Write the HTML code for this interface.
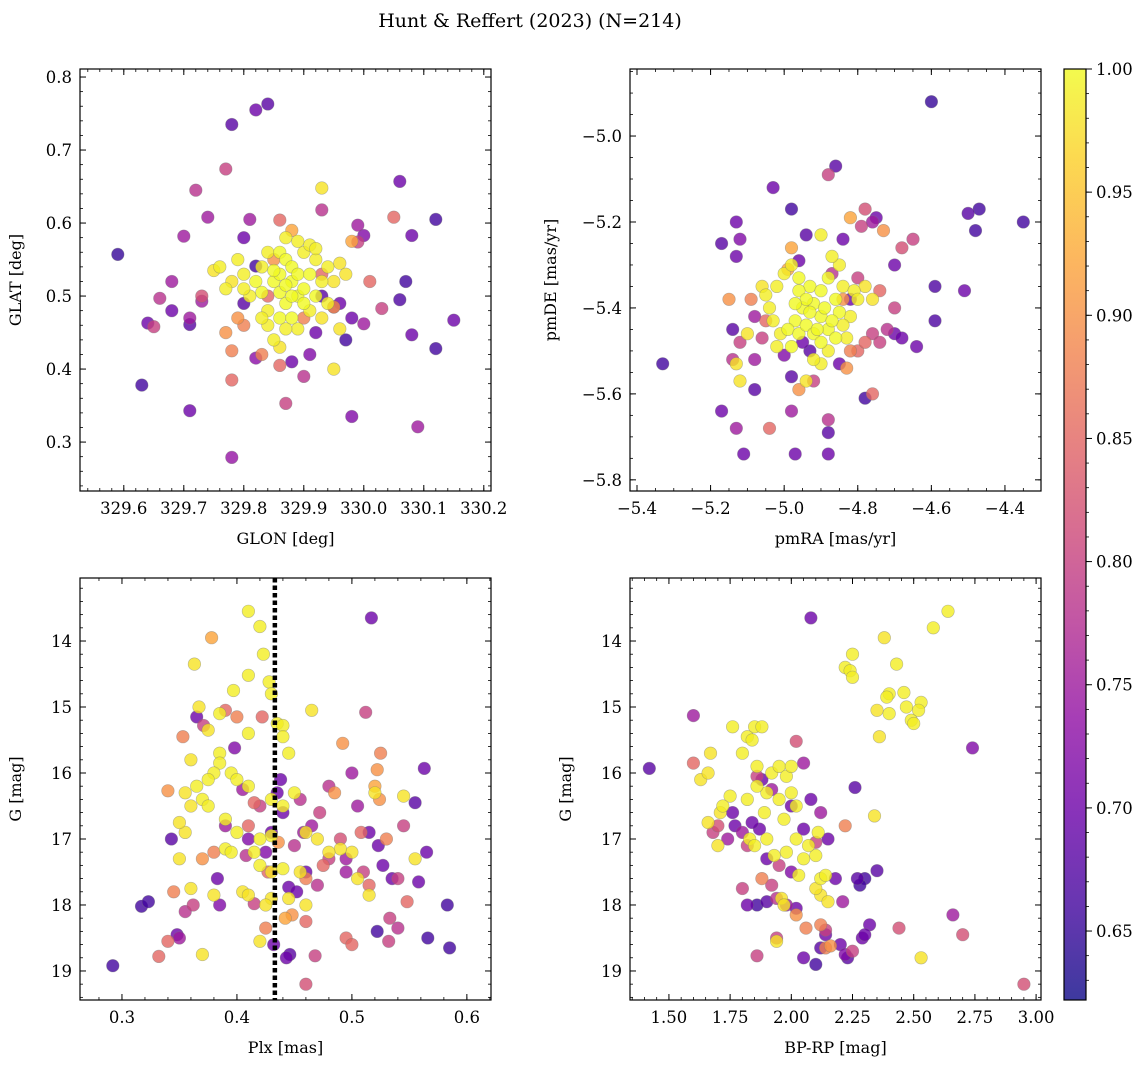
<!DOCTYPE html>
<html><head><meta charset="utf-8">
<style>
html,body{margin:0;padding:0;background:#fff;}
svg{display:block;font-family:"DejaVu Serif","Liberation Serif",serif;}
</style></head>
<body>
<svg id="chart" width="1148" height="1068" xmlns="http://www.w3.org/2000/svg">
<text x="530" y="27" font-size="19" text-anchor="middle">Hunt &amp; Reffert (2023) (N=214)</text>
<defs>
<linearGradient id="cbgrad" x1="0" y1="1" x2="0" y2="0">
<stop offset="0" stop-color="#0d0887"/><stop offset="0.1" stop-color="#41049d"/><stop offset="0.2" stop-color="#6a00a8"/><stop offset="0.3" stop-color="#8f0da4"/><stop offset="0.4" stop-color="#b12a90"/><stop offset="0.5" stop-color="#cc4778"/><stop offset="0.6" stop-color="#e16462"/><stop offset="0.7" stop-color="#f2844b"/><stop offset="0.8" stop-color="#fca636"/><stop offset="0.9" stop-color="#fcce25"/><stop offset="1" stop-color="#f0f921"/>
</linearGradient>
</defs>
</svg>
<script>
// ---- data: [x, y, probability] ----
const skyStars = [
[329.59,0.557,0.65],[329.63,0.378,0.66],[329.64,0.463,0.7],[329.65,0.458,0.8],[329.66,0.497,0.78],[329.68,0.52,0.75],[329.68,0.48,0.7],[329.70,0.582,0.75],[329.71,0.47,0.75],[329.71,0.343,0.7],[329.71,0.461,0.68],[329.72,0.645,0.78],[329.73,0.50,0.82],[329.73,0.493,0.75],[329.74,0.608,0.75],[329.78,0.735,0.68],[329.77,0.674,0.8],[329.78,0.385,0.85],[329.78,0.279,0.74],[329.82,0.755,0.7],[329.84,0.763,0.68],[329.80,0.58,0.7],[329.81,0.605,0.75],[329.82,0.541,0.66],[329.80,0.49,0.68],[329.82,0.415,0.73],[329.86,0.604,0.85],[329.87,0.353,0.8],[329.88,0.41,0.7],[329.90,0.39,0.78],[329.91,0.42,0.72],[329.92,0.45,0.7],[329.93,0.618,0.78],[329.93,0.50,0.68],[329.95,0.485,0.7],[329.96,0.49,0.7],[329.97,0.44,0.66],[329.98,0.335,0.72],[329.99,0.574,0.8],[329.99,0.597,0.75],[330.00,0.583,0.72],[329.98,0.47,0.7],[330.00,0.462,0.75],[330.01,0.52,0.85],[330.03,0.483,0.8],[330.05,0.608,0.85],[330.06,0.657,0.7],[330.06,0.495,0.67],[330.07,0.52,0.66],[330.08,0.447,0.7],[330.08,0.583,0.7],[330.09,0.321,0.75],[330.12,0.605,0.66],[330.12,0.428,0.66],[330.15,0.467,0.7],
[329.77,0.45,0.9],[329.78,0.425,0.88],[329.79,0.47,0.9],[329.80,0.46,0.88],[329.83,0.42,0.88],[329.84,0.50,0.85],[329.85,0.55,0.9],[329.88,0.59,0.92],[329.90,0.47,0.88],[329.98,0.575,0.92],[329.95,0.485,0.9],[329.93,0.53,0.85],[329.86,0.405,0.85],
[329.93,0.648,0.98],[329.95,0.40,0.98],[329.77,0.51,0.99],[329.75,0.535,0.98],[329.76,0.54,0.99],[329.79,0.55,0.99],[329.80,0.53,0.99],[329.82,0.52,1],[329.83,0.505,1],[329.84,0.48,0.99],[329.85,0.52,1],[329.86,0.56,1],[329.86,0.53,1],[329.87,0.58,0.99],[329.87,0.55,1],[329.88,0.54,1],[329.88,0.52,1],[329.89,0.50,1],[329.89,0.53,1],[329.90,0.56,0.99],[329.90,0.51,1],[329.91,0.57,0.99],[329.91,0.53,1],[329.92,0.55,0.99],[329.92,0.50,1],[329.93,0.52,0.99],[329.94,0.54,0.99],[329.94,0.49,0.99],[329.95,0.52,0.98],[329.96,0.545,0.98],[329.97,0.53,0.98],[329.96,0.455,0.98],[329.85,0.44,0.99],[329.84,0.46,0.99],[329.86,0.47,1],[329.87,0.49,1],[329.88,0.47,1],[329.89,0.455,0.99],[329.90,0.49,1],[329.91,0.48,0.99],[329.86,0.505,1],[329.87,0.515,1],[329.88,0.50,1],[329.85,0.535,1],[329.83,0.54,0.99],[329.81,0.50,0.99],[329.80,0.51,0.99],[329.89,0.575,0.99],[329.92,0.565,0.99],[329.86,0.43,0.98],[329.83,0.47,0.99],[329.78,0.52,0.98],[329.84,0.56,0.99],[329.93,0.47,0.98],[329.87,0.455,0.99]
];
const pmStars = [
[-4.60,-4.92,0.65],[-4.86,-5.07,0.68],[-4.88,-5.09,0.8],[-5.03,-5.12,0.7],[-4.98,-5.17,0.66],[-5.13,-5.20,0.7],[-5.12,-5.24,0.72],[-4.94,-5.23,0.68],[-4.84,-5.24,0.7],[-4.79,-5.21,0.8],[-4.76,-5.20,0.75],[-4.75,-5.19,0.7],[-4.73,-5.22,0.9],[-4.78,-5.17,0.82],[-5.17,-5.25,0.68],[-5.13,-5.28,0.7],[-4.68,-5.26,0.82],[-4.65,-5.24,0.8],[-4.70,-5.30,0.7],[-4.50,-5.18,0.68],[-4.47,-5.17,0.66],[-4.48,-5.22,0.66],[-4.35,-5.20,0.66],[-4.59,-5.35,0.67],[-4.51,-5.36,0.7],[-4.64,-5.49,0.7],[-4.59,-5.43,0.67],[-5.33,-5.53,0.66],[-5.17,-5.64,0.7],[-5.13,-5.68,0.75],[-5.11,-5.74,0.7],[-4.97,-5.74,0.7],[-4.88,-5.74,0.7],[-4.88,-5.69,0.68],[-4.88,-5.66,0.78],[-5.04,-5.68,0.85],[-5.08,-5.59,0.68],[-4.98,-5.64,0.75],[-4.78,-5.61,0.66],[-4.76,-5.60,0.85],[-5.14,-5.45,0.68],[-5.14,-5.52,0.78],[-5.12,-5.48,0.8],[-5.08,-5.52,0.75],[-5.15,-5.38,0.9],[-5.09,-5.38,0.88],[-5.08,-5.42,0.75],[-5.06,-5.47,0.8],[-5.05,-5.43,0.85],[-4.80,-5.50,0.85],[-4.78,-5.48,0.85],[-4.76,-5.46,0.8],[-4.74,-5.48,0.8],[-4.72,-5.45,0.78],[-4.70,-5.46,0.7],[-4.68,-5.47,0.7],[-4.70,-5.40,0.8],[-4.74,-5.36,0.85],[-4.82,-5.50,0.88],[-4.85,-5.53,0.7],[-4.83,-5.54,0.9],[-4.95,-5.48,0.7],[-4.93,-5.50,0.68],[-4.98,-5.56,0.68],[-4.92,-5.57,0.8],[-4.96,-5.59,0.9],[-5.00,-5.51,0.72],[-4.82,-5.38,0.7],[-4.80,-5.33,0.8],[-4.87,-5.32,0.78],[-4.96,-5.29,0.7],[-4.84,-5.38,0.9],[-4.82,-5.19,0.92],[-4.98,-5.26,0.92],[-4.99,-5.31,0.92],
[-4.90,-5.23,0.99],[-5.13,-5.53,0.98],[-5.12,-5.57,0.98],[-5.10,-5.46,0.98],[-5.04,-5.40,0.99],[-5.02,-5.35,0.99],[-5.00,-5.32,0.99],[-4.98,-5.30,0.99],[-4.96,-5.33,1],[-4.93,-5.35,1],[-4.92,-5.39,1],[-4.90,-5.42,1],[-4.90,-5.36,1],[-4.88,-5.33,1],[-4.86,-5.38,1],[-4.85,-5.41,1],[-4.84,-5.35,0.99],[-4.82,-5.42,0.99],[-4.81,-5.36,0.99],[-4.80,-5.38,0.99],[-4.78,-5.35,0.98],[-4.76,-5.38,0.98],[-4.95,-5.40,1],[-4.97,-5.43,1],[-4.99,-5.45,1],[-5.01,-5.46,0.99],[-5.02,-5.49,0.99],[-4.98,-5.49,1],[-4.96,-5.46,1],[-4.94,-5.44,1],[-4.92,-5.46,1],[-4.90,-5.48,1],[-4.88,-5.45,1],[-4.86,-5.47,1],[-4.84,-5.44,0.99],[-4.83,-5.47,0.99],[-4.88,-5.50,0.99],[-4.90,-5.53,0.99],[-4.92,-5.52,0.99],[-4.94,-5.57,0.98],[-4.93,-5.41,1],[-4.91,-5.45,1],[-4.89,-5.40,1],[-4.87,-5.43,1],[-5.05,-5.37,0.99],[-4.96,-5.36,1],[-4.94,-5.38,1],[-4.97,-5.39,1],[-4.85,-5.30,0.99],[-4.87,-5.28,0.99],[-5.03,-5.43,0.99],[-5.06,-5.35,0.98]
];
const plxStars = [
[0.292,18.92,0.66],[0.317,18.02,0.66],[0.323,17.95,0.66],[0.343,17.0,0.68],[0.348,18.45,0.7],[0.350,18.5,0.75],[0.355,18.1,0.78],[0.362,18.0,0.8],[0.365,15.15,0.7],[0.371,15.28,0.8],[0.383,17.6,0.7],[0.385,18.0,0.72],[0.398,15.62,0.72],[0.405,16.25,0.75],[0.410,17.0,0.72],[0.408,17.25,0.78],[0.415,17.98,0.8],[0.420,16.5,0.8],[0.425,17.2,0.72],[0.430,16.9,0.7],[0.432,18.6,0.7],[0.435,16.3,0.7],[0.438,16.1,0.7],[0.440,16.6,0.7],[0.443,18.8,0.7],[0.446,18.75,0.68],[0.445,17.73,0.7],[0.452,17.8,0.7],[0.450,17.1,0.78],[0.455,16.4,0.78],[0.458,16.9,0.75],[0.460,17.5,0.7],[0.465,16.8,0.75],[0.470,17.7,0.78],[0.472,16.6,0.8],[0.480,17.3,0.8],[0.490,17.0,0.82],[0.495,17.3,0.75],[0.505,16.5,0.75],[0.510,17.5,0.8],[0.512,15.08,0.8],[0.515,16.9,0.7],[0.517,13.65,0.7],[0.522,18.4,0.66],[0.523,17.1,0.7],[0.527,17.4,0.7],[0.532,18.55,0.8],[0.535,17.6,0.7],[0.540,17.6,0.8],[0.545,16.8,0.8],[0.555,16.45,0.68],[0.558,17.65,0.7],[0.563,15.93,0.7],[0.565,17.2,0.7],[0.566,18.5,0.66],[0.583,18.0,0.66],[0.585,18.65,0.66],[0.533,18.2,0.8],[0.540,18.35,0.78],[0.46,19.2,0.82],[0.468,18.77,0.8],[0.46,18.25,0.85],[0.480,16.2,0.78],[0.39,16.8,0.75],[0.50,16.0,0.75],[0.495,17.5,0.75],
[0.340,16.27,0.9],[0.345,17.8,0.88],[0.340,18.55,0.85],[0.332,18.78,0.85],[0.353,15.45,0.88],[0.378,13.95,0.92],[0.370,17.3,0.9],[0.380,17.2,0.88],[0.390,15.05,0.85],[0.400,15.15,0.88],[0.415,16.45,0.85],[0.422,15.15,0.85],[0.425,18.35,0.88],[0.427,17.5,0.85],[0.436,17.05,0.9],[0.442,18.2,0.92],[0.448,18.15,0.9],[0.46,17.6,0.88],[0.475,17.4,0.85],[0.485,16.3,0.9],[0.492,15.55,0.9],[0.495,18.5,0.85],[0.500,18.6,0.85],[0.508,16.9,0.85],[0.515,17.7,0.85],[0.52,16.2,0.92],[0.522,15.95,0.9],[0.524,16.4,0.9],[0.525,15.7,0.88],[0.548,17.95,0.85],[0.53,17.0,0.88],[0.41,16.8,0.85],
[0.410,13.55,0.99],[0.420,13.78,0.99],[0.423,14.2,0.99],[0.363,14.35,0.98],[0.410,14.52,0.99],[0.428,14.62,0.99],[0.397,14.75,0.99],[0.430,14.8,0.99],[0.367,15.0,0.98],[0.385,15.1,0.99],[0.435,15.25,0.99],[0.440,15.28,0.99],[0.440,15.45,0.99],[0.375,15.35,0.98],[0.410,15.4,0.99],[0.445,15.7,0.99],[0.385,15.7,0.99],[0.385,15.85,0.99],[0.36,15.8,0.98],[0.38,16.0,0.99],[0.375,16.1,0.99],[0.365,16.2,0.99],[0.355,16.3,0.98],[0.395,16.0,0.99],[0.40,16.1,0.99],[0.41,16.2,0.99],[0.37,16.4,0.99],[0.36,16.5,0.98],[0.375,16.5,0.99],[0.39,16.7,0.99],[0.355,16.9,0.98],[0.40,16.9,0.99],[0.43,16.95,0.99],[0.43,17.5,0.98],[0.465,15.05,0.98],[0.42,17.0,0.99],[0.415,17.2,0.99],[0.35,17.3,0.98],[0.39,17.15,0.99],[0.395,17.2,0.99],[0.44,17.45,0.99],[0.445,17.9,0.98],[0.43,17.9,0.98],[0.405,17.8,0.98],[0.38,17.85,0.98],[0.36,17.75,0.98],[0.35,16.75,0.98],[0.42,17.4,0.99],[0.425,18.0,0.98],[0.37,18.75,0.98],[0.41,17.85,0.98],[0.42,18.55,0.98],[0.455,17.5,0.98],[0.46,18.0,0.98],[0.50,17.2,0.98],[0.505,17.6,0.98],[0.515,17.85,0.98],[0.52,16.3,0.98],[0.545,16.35,0.98],[0.555,17.3,0.98],[0.49,17.15,0.98],[0.45,16.3,0.99],[0.43,16.4,0.99],[0.44,16.5,0.99],[0.46,16.9,0.98],[0.48,17.2,0.98],[0.47,17.0,0.98]
];
const cmdStars = [
[1.42,15.93,0.68],[1.60,15.13,0.75],[2.08,13.65,0.7],[2.74,15.62,0.72],[2.95,19.2,0.82],[2.70,18.45,0.82],[2.66,18.15,0.75],[2.44,18.35,0.82],[2.35,17.48,0.68],[2.26,16.22,0.68],[2.27,17.6,0.68],[2.30,17.6,0.66],[2.28,17.7,0.66],[2.32,18.3,0.7],[2.20,18.6,0.7],[2.22,18.75,0.72],[2.23,18.8,0.68],[2.25,18.7,0.8],[2.29,18.5,0.7],[2.30,18.45,0.7],[2.14,18.45,0.7],[2.12,18.65,0.68],[2.10,18.9,0.66],[2.05,18.8,0.7],[2.16,18.62,0.9],[1.94,18.5,0.8],[1.86,18.77,0.8],[1.82,18.0,0.7],[1.86,18.0,0.66],[1.90,17.95,0.68],[1.94,17.9,0.78],[1.98,18.0,0.75],[2.02,18.05,0.7],[1.80,17.75,0.8],[1.82,17.1,0.8],[1.80,16.9,0.75],[1.77,16.8,0.7],[1.74,17.0,0.75],[1.68,16.9,0.8],[1.70,16.8,0.82],[1.60,15.85,0.85],[1.76,16.6,0.7],[1.86,16.05,0.8],[1.88,16.1,0.7],[1.92,16.25,0.75],[2.00,16.5,0.7],[2.02,15.52,0.82],[2.05,15.85,0.75],[2.08,16.4,0.7],[2.05,16.85,0.7],[2.12,16.6,0.75],[2.10,17.05,0.8],[2.15,17.0,0.7],[2.00,17.5,0.72],[1.95,17.4,0.8],[2.18,17.6,0.7],[2.21,17.95,0.75],[2.22,16.8,0.88],[2.02,18.15,0.9],[1.88,17.6,0.88],[1.92,17.7,0.8],[2.12,18.3,0.88],[2.14,18.38,0.8],[2.06,18.35,0.88],[2.14,18.65,0.88],[1.87,16.85,0.7],[1.84,16.75,0.7],[1.90,17.3,0.7],
[2.64,13.55,0.99],[2.58,13.8,0.99],[2.38,13.95,0.98],[2.22,14.4,0.99],[2.24,14.45,0.99],[2.25,14.55,0.99],[2.25,14.2,0.99],[2.43,14.35,0.99],[2.40,14.8,0.99],[2.39,14.85,0.99],[2.46,14.78,0.99],[2.35,15.05,0.98],[2.40,15.1,0.99],[2.47,15.0,0.99],[2.49,15.2,0.99],[2.50,15.25,0.99],[2.53,14.93,0.99],[2.52,15.05,0.99],[2.36,15.45,0.98],[2.53,18.8,0.98],[1.85,15.3,0.99],[1.88,15.3,0.99],[1.76,15.3,0.99],[1.82,15.45,0.99],[1.84,15.5,0.99],[1.80,15.7,0.99],[1.67,15.7,0.98],[1.63,16.1,0.98],[1.66,16.0,0.98],[1.86,15.9,0.99],[1.92,16.0,0.99],[1.95,15.9,0.99],[1.98,16.05,0.99],[1.90,16.3,0.99],[1.95,16.4,0.99],[2.00,16.3,0.99],[2.02,16.5,0.99],[1.82,16.4,0.99],[1.75,16.35,0.99],[1.72,16.5,0.99],[1.71,16.6,0.98],[1.66,16.75,0.98],[1.70,17.1,0.98],[1.83,17.0,0.99],[1.85,17.1,0.99],[1.90,17.0,0.99],[1.93,17.25,0.99],[1.98,17.2,0.99],[2.02,17.0,0.99],[2.05,17.3,0.99],[2.10,17.25,0.99],[2.12,17.6,0.99],[2.14,17.55,0.99],[2.12,17.85,0.98],[2.10,17.75,0.98],[2.15,17.95,0.98],[1.96,17.9,0.98],[1.97,18.0,0.98],[1.94,18.55,0.98],[2.03,17.55,0.99],[2.07,17.1,0.99],[2.11,16.9,0.99],[1.89,16.6,0.99],[1.97,16.7,0.99],[2.34,16.65,0.98],[2.0,15.9,0.99],[1.86,16.2,0.99]
];
const plxCut = [0.433];
const cbTicks = [0.65,0.70,0.75,0.80,0.85,0.90,0.95,1.00];
const pMin = 0.622, pMax = 1.0;

const NS = 'http://www.w3.org/2000/svg';
const svg = document.getElementById('chart');
function mk(tag, attrs, parent){
  const e = document.createElementNS(NS, tag);
  for (const k in attrs) e.setAttribute(k, attrs[k]);
  (parent||svg).appendChild(e); return e;
}
const stops=[[0,[13,8,135]],[0.1,[65,4,157]],[0.2,[106,0,168]],[0.3,[143,13,164]],[0.4,[177,42,144]],[0.5,[204,71,120]],[0.6,[225,100,98]],[0.7,[242,132,75]],[0.8,[252,166,54]],[0.9,[252,206,37]],[1,[240,249,33]]];
function plasma(t){
  t=Math.max(0,Math.min(1,t));
  for(let i=0;i<stops.length-1;i++){
    const a=stops[i],b=stops[i+1];
    if(t<=b[0]){const f=(t-a[0])/(b[0]-a[0]);
      const c=a[1].map((v,j)=>Math.round(v+(b[1][j]-v)*f));
      return `rgb(${c[0]},${c[1]},${c[2]})`;}
  }
  return 'rgb(240,249,33)';
}
function fmt(v,d){return v.toFixed(d).replace('-','\u2212');}

function panel(cfg){
  const {x0,y0,w,h,xd,yd,yInv,xt,xm,yt,ym,xdec,ydec,xlabel,ylabel,data,name} = cfg;
  const g = mk('g',{});
  
  
  const sx = v => x0 + (v-xd[0])/(xd[1]-xd[0])*w;
  const sy = v => yInv ? y0 + (v-yd[0])/(yd[1]-yd[0])*h : y0 + h - (v-yd[0])/(yd[1]-yd[0])*h;
  const clip = 'clip-'+name;
  const cp = mk('clipPath',{id:clip},g); mk('rect',{x:x0,y:y0,width:w,height:h},cp);
  const pts = mk('g',{'clip-path':`url(#${clip})`},g);
  const sorted = data.slice().sort((a,b)=>a[2]-b[2]);
  sorted.forEach(d=>{
    const c = mk('circle',{cx:sx(d[0]).toFixed(1),cy:sy(d[1]).toFixed(1),r:6.3,fill:plasma((d[2]-pMin)/(pMax-pMin)),'fill-opacity':0.8,stroke:'#777','stroke-opacity':0.5,'stroke-width':0.6},pts);
    
    
  });
  if (cfg.vline){
    const l = mk('line',{x1:sx(cfg.vline[0]),x2:sx(cfg.vline[0]),y1:y0,y2:y0+h,stroke:'#000','stroke-width':4.5,'stroke-dasharray':'4.5 3'},g);
    
    
  }
  const eps=1e-9;
  for(let v=Math.ceil((xd[0])/xm-eps)*xm; v<=xd[1]+eps; v+=xm){
    const X=sx(v); mk('line',{x1:X,x2:X,y1:y0+h,y2:y0+h-3,stroke:'#000','stroke-width':0.8},g); mk('line',{x1:X,x2:X,y1:y0,y2:y0+3,stroke:'#000','stroke-width':0.8},g);
  }
  for(let v=Math.ceil((yd[0])/ym-eps)*ym; v<=yd[1]+eps; v+=ym){
    const Y=sy(v); mk('line',{x1:x0,x2:x0+3,y1:Y,y2:Y,stroke:'#000','stroke-width':0.8},g); mk('line',{x1:x0+w,x2:x0+w-3,y1:Y,y2:Y,stroke:'#000','stroke-width':0.8},g);
  }
  xt.forEach(v=>{const X=sx(v);
    mk('line',{x1:X,x2:X,y1:y0+h,y2:y0+h-6,stroke:'#000','stroke-width':1},g); mk('line',{x1:X,x2:X,y1:y0,y2:y0+6,stroke:'#000','stroke-width':1},g);
    const t=mk('text',{x:X,y:y0+h+23,'font-size':16.5,'text-anchor':'middle'},g); t.textContent=fmt(v,xdec);
    
    
  });
  yt.forEach(v=>{const Y=sy(v);
    mk('line',{x1:x0,x2:x0+6,y1:Y,y2:Y,stroke:'#000','stroke-width':1},g); mk('line',{x1:x0+w,x2:x0+w-6,y1:Y,y2:Y,stroke:'#000','stroke-width':1},g);
    const t=mk('text',{x:x0-8,y:Y+6,'font-size':16.5,'text-anchor':'end'},g); t.textContent=fmt(v,ydec);
    
    
  });
  mk('rect',{x:x0,y:y0,width:w,height:h,fill:'none',stroke:'#000','stroke-width':1.2},g);
  const xl=mk('text',{x:x0+w/2,y:y0+h+53,'font-size':16,'text-anchor':'middle'},g); xl.textContent=xlabel;
  
  
  const lx = cfg.ylx;
  const yl=mk('text',{x:lx,y:y0+h/2,'font-size':16,'text-anchor':'middle',transform:`rotate(-90 ${lx} ${y0+h/2})`},g); yl.textContent=ylabel;
  
  
}
function rng(a,b,s){const r=[];for(let v=a;v<=b+s/1000;v+=s)r.push(Math.round(v*1000)/1000);return r;}

panel({name:'panel-sky-position',x0:80,y0:69,w:411,h:422,xd:[329.527,330.212],yd:[0.233,0.811],xt:rng(329.6,330.2,0.1),xm:0.02,yt:rng(0.3,0.8,0.1),ym:0.02,xdec:1,ydec:1,xlabel:'GLON [deg]',ylabel:'GLAT [deg]',ylx:21,data:skyStars});
panel({name:'panel-proper-motion',x0:630,y0:69,w:411,h:422,xd:[-5.419,-4.302],yd:[-5.826,-4.844],xt:rng(-5.4,-4.4,0.2),xm:0.05,yt:rng(-5.8,-5.0,0.2),ym:0.05,xdec:1,ydec:1,xlabel:'pmRA [mas/yr]',ylabel:'pmDE [mas/yr]',ylx:556,data:pmStars});
panel({name:'panel-parallax-mag',x0:80,y0:578,w:411,h:422,xd:[0.2635,0.621],yd:[13.045,19.44],yInv:true,xt:rng(0.3,0.6,0.1),xm:0.02,yt:rng(14,19,1),ym:0.2,xdec:1,ydec:0,xlabel:'Plx [mas]',ylabel:'G [mag]',ylx:21,data:plxStars,vline:plxCut});
panel({name:'panel-cmd',x0:630,y0:578,w:411,h:422,xd:[1.341,3.02],yd:[13.045,19.44],yInv:true,xt:rng(1.5,3.0,0.25),xm:0.05,yt:rng(14,19,1),ym:0.2,xdec:2,ydec:0,xlabel:'BP-RP [mag]',ylabel:'G [mag]',ylx:571,data:cmdStars});

const cb = mk('g',{});


const cbx=1064, cbw=22, cby0=69, cby1=1000;
mk('rect',{x:cbx,y:cby0,width:cbw,height:cby1-cby0,fill:'url(#cbgrad)','fill-opacity':0.8},cb);
const cy = v => cby1 - (v-pMin)/(pMax-pMin)*(cby1-cby0);
for(let v=0.63; v<=1.0001; v+=0.01){const Y=cy(v); mk('line',{x1:cbx+cbw,x2:cbx+cbw+3,y1:Y,y2:Y,stroke:'#000','stroke-width':0.8},cb);}
cbTicks.forEach(v=>{const Y=cy(v);
  mk('line',{x1:cbx+cbw,x2:cbx+cbw+6,y1:Y,y2:Y,stroke:'#000','stroke-width':1},cb);
  const t=mk('text',{x:cbx+cbw+10,y:Y+6,'font-size':16.5},cb); t.textContent=v.toFixed(2);
  
  
});
mk('rect',{x:cbx,y:cby0,width:cbw,height:cby1-cby0,fill:'none',stroke:'#000','stroke-width':1.2},cb);
</script>
</body></html>
